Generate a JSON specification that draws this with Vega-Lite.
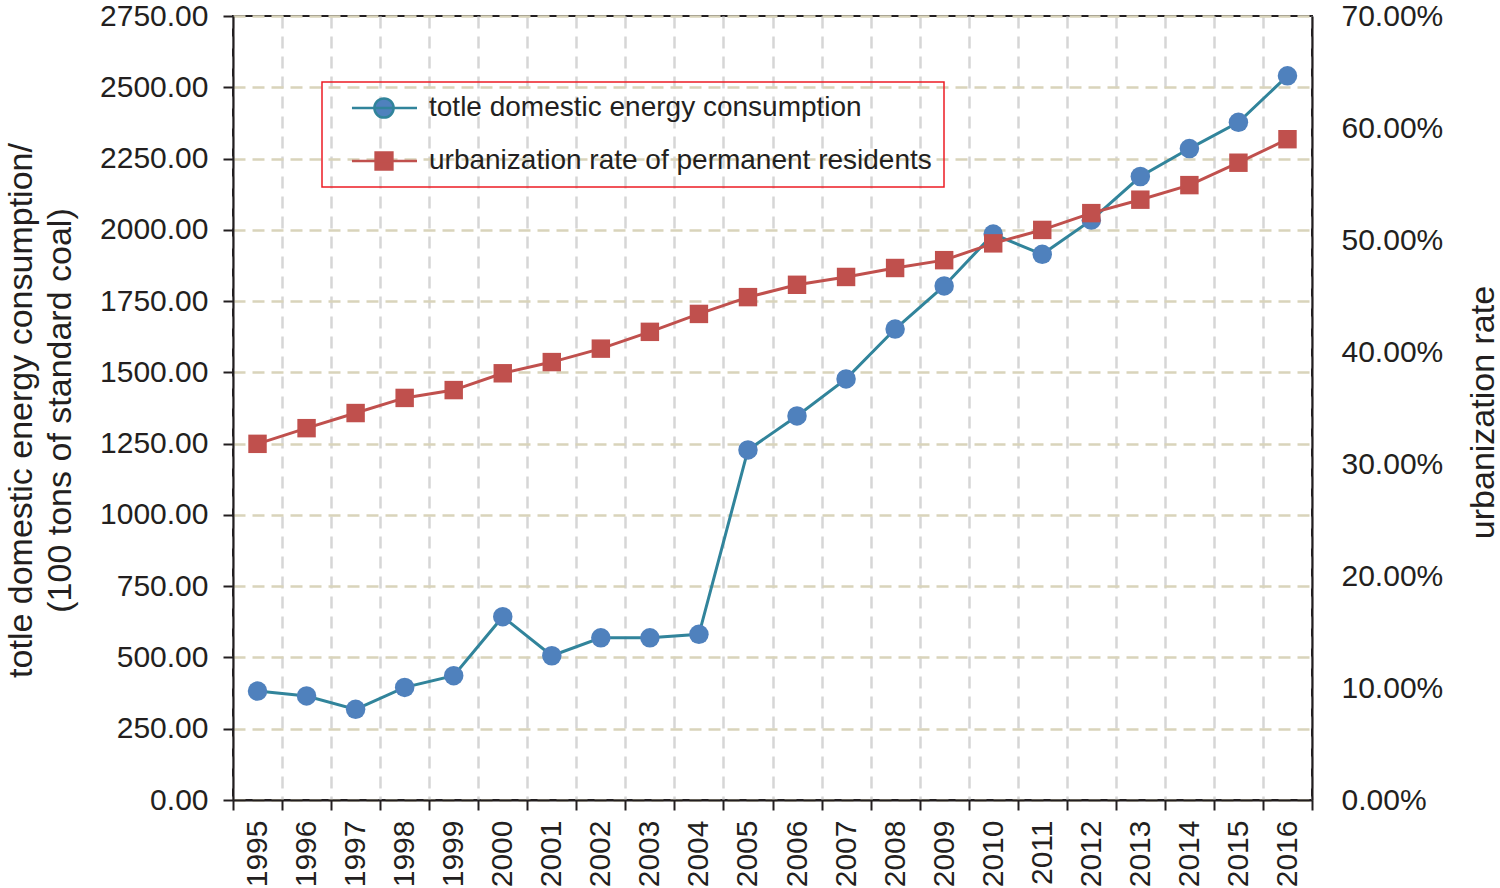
{
  "$schema": "https://vega.github.io/schema/vega-lite/v6.json",
  "width": 1079,
  "height": 784,
  "autosize": {"type": "none"},
  "padding": {"left": 233, "top": 16, "right": 188, "bottom": 88},
  "background": "white",
  "data": {
    "values": [
      {"year": "1995", "series": "totle domestic energy consumption", "value": 382},
      {"year": "1996", "series": "totle domestic energy consumption", "value": 365},
      {"year": "1997", "series": "totle domestic energy consumption", "value": 318},
      {"year": "1998", "series": "totle domestic energy consumption", "value": 395},
      {"year": "1999", "series": "totle domestic energy consumption", "value": 436},
      {"year": "2000", "series": "totle domestic energy consumption", "value": 643},
      {"year": "2001", "series": "totle domestic energy consumption", "value": 506},
      {"year": "2002", "series": "totle domestic energy consumption", "value": 569},
      {"year": "2003", "series": "totle domestic energy consumption", "value": 569},
      {"year": "2004", "series": "totle domestic energy consumption", "value": 581},
      {"year": "2005", "series": "totle domestic energy consumption", "value": 1228},
      {"year": "2006", "series": "totle domestic energy consumption", "value": 1347},
      {"year": "2007", "series": "totle domestic energy consumption", "value": 1477},
      {"year": "2008", "series": "totle domestic energy consumption", "value": 1652},
      {"year": "2009", "series": "totle domestic energy consumption", "value": 1803},
      {"year": "2010", "series": "totle domestic energy consumption", "value": 1985},
      {"year": "2011", "series": "totle domestic energy consumption", "value": 1914},
      {"year": "2012", "series": "totle domestic energy consumption", "value": 2034},
      {"year": "2013", "series": "totle domestic energy consumption", "value": 2187},
      {"year": "2014", "series": "totle domestic energy consumption", "value": 2285},
      {"year": "2015", "series": "totle domestic energy consumption", "value": 2377},
      {"year": "2016", "series": "totle domestic energy consumption", "value": 2540},
      {"year": "1995", "series": "urbanization rate of permanent residents", "value": 0.318},
      {"year": "1996", "series": "urbanization rate of permanent residents", "value": 0.332},
      {"year": "1997", "series": "urbanization rate of permanent residents", "value": 0.3455},
      {"year": "1998", "series": "urbanization rate of permanent residents", "value": 0.359},
      {"year": "1999", "series": "urbanization rate of permanent residents", "value": 0.366},
      {"year": "2000", "series": "urbanization rate of permanent residents", "value": 0.381},
      {"year": "2001", "series": "urbanization rate of permanent residents", "value": 0.391},
      {"year": "2002", "series": "urbanization rate of permanent residents", "value": 0.403},
      {"year": "2003", "series": "urbanization rate of permanent residents", "value": 0.418},
      {"year": "2004", "series": "urbanization rate of permanent residents", "value": 0.434},
      {"year": "2005", "series": "urbanization rate of permanent residents", "value": 0.449},
      {"year": "2006", "series": "urbanization rate of permanent residents", "value": 0.460},
      {"year": "2007", "series": "urbanization rate of permanent residents", "value": 0.467},
      {"year": "2008", "series": "urbanization rate of permanent residents", "value": 0.475},
      {"year": "2009", "series": "urbanization rate of permanent residents", "value": 0.482},
      {"year": "2010", "series": "urbanization rate of permanent residents", "value": 0.497},
      {"year": "2011", "series": "urbanization rate of permanent residents", "value": 0.509},
      {"year": "2012", "series": "urbanization rate of permanent residents", "value": 0.524},
      {"year": "2013", "series": "urbanization rate of permanent residents", "value": 0.536},
      {"year": "2014", "series": "urbanization rate of permanent residents", "value": 0.549},
      {"year": "2015", "series": "urbanization rate of permanent residents", "value": 0.569},
      {"year": "2016", "series": "urbanization rate of permanent residents", "value": 0.590}
    ]
  },
  "encoding": {
    "x": {
      "field": "year",
      "type": "ordinal",
      "scale": {"type": "band", "paddingInner": 0, "paddingOuter": 0},
      "axis": {
        "title": null,
        "labelAngle": 270,
        "tickBand": "extent",
        "grid": true,
        "gridDash": [12, 8],
        "gridColor": "#d6d6d6",
        "gridWidth": 2.5,
        "tickSize": 10,
        "labelPadding": 10
      }
    }
  },
  "layer": [
    {
      "transform": [{"filter": "datum.series === 'totle domestic energy consumption'"}],
      "encoding": {
        "y": {
          "field": "value",
          "type": "quantitative",
          "scale": {"domain": [0, 2750], "nice": false, "zero": true},
          "axis": {
            "orient": "left",
            "values": [0, 250, 500, 750, 1000, 1250, 1500, 1750, 2000, 2250, 2500, 2750],
            "format": ".2f",
            "grid": true,
            "gridDash": [12, 7],
            "gridColor": "#d9d4bb",
            "gridWidth": 2.5,
            "tickSize": 10,
            "labelPadding": 15,
            "title": ["totle domestic energy consumption/", "(100 tons of standard coal)"],
            "titleAngle": 270,
            "titleX": -202,
            "titleY": 394,
            "titleAlign": "center",
            "titleBaseline": "alphabetic",
            "titleLineHeight": 39
          }
        }
      },
      "layer": [
        {"mark": {"type": "line", "color": "#31849b", "strokeWidth": 3}},
        {
          "mark": {"type": "point", "shape": "circle", "filled": true, "size": 380, "opacity": 1, "strokeWidth": 0},
          "encoding": {
            "color": {
              "field": "series",
              "type": "nominal",
              "scale": {
                "domain": ["totle domestic energy consumption", "urbanization rate of permanent residents"],
                "range": ["#4f81bd", "#c0504d"]
              },
              "legend": {
                "orient": "none",
                "legendX": 89,
                "legendY": 66,
                "title": null,
                "strokeColor": "#ed1c24",
                "padding": 12,
                "rowPadding": 24,
                "labelFontSize": 28,
                "labelFont": "Liberation Sans",
                "labelColor": "#231f20",
                "labelOffset": 67,
                "labelLimit": 0,
                "symbolSize": 576,
                "symbolStrokeWidth": 2.5,
                "symbolOpacity": 1,
                "encode": {
                  "legend": {"update": {"strokeWidth": {"value": 1.5}}},
                  "symbols": {
                    "update": {
                      "shape": {"signal": "datum.value === 'totle domestic energy consumption' ? 'M0.33,0L5.75,0M3.8,0A0.8,0.8,0,1,1,2.2,0A0.8,0.8,0,1,1,3.8,0Z' : 'M0.33,0L5.75,0M2.3,-0.7L3.7,-0.7L3.7,0.7L2.3,0.7Z'"},
                      "stroke": {"signal": "datum.value === 'totle domestic energy consumption' ? '#31849b' : '#c0504d'"},
                      "strokeWidth": {"value": 2.5},
                      "opacity": {"value": 1}
                    }
                  }
                }
              }
            }
          }
        }
      ]
    },
    {
      "transform": [{"filter": "datum.series === 'urbanization rate of permanent residents'"}],
      "encoding": {
        "y": {
          "field": "value",
          "type": "quantitative",
          "scale": {"domain": [0, 0.7], "nice": false, "zero": true},
          "axis": {
            "orient": "right",
            "values": [0, 0.1, 0.2, 0.3, 0.4, 0.5, 0.6, 0.7],
            "format": ".2%",
            "grid": false,
            "ticks": false,
            "tickSize": 0,
            "labelPadding": 29,
            "title": "urbanization rate",
            "titleAngle": 270,
            "titleX": 181,
            "titleY": 396,
            "titleAlign": "center",
            "titleBaseline": "alphabetic"
          }
        }
      },
      "layer": [
        {"mark": {"type": "line", "color": "#c0504d", "strokeWidth": 3}},
        {
          "mark": {"type": "point", "shape": "square", "filled": true, "size": 340, "opacity": 1, "strokeWidth": 0},
          "encoding": {
            "color": {"field": "series", "type": "nominal"}
          }
        }
      ]
    }
  ],
  "resolve": {"scale": {"y": "independent"}},
  "config": {
    "font": "Liberation Sans",
    "view": {"stroke": "#231f20", "strokeWidth": 2},
    "axis": {
      "labelFont": "Liberation Sans",
      "labelFontSize": 30,
      "labelColor": "#231f20",
      "titleFont": "Liberation Sans",
      "titleFontSize": 34,
      "titleFontWeight": "normal",
      "titleColor": "#231f20",
      "domainColor": "#231f20",
      "domainWidth": 2,
      "tickColor": "#231f20",
      "tickWidth": 2
    }
  }
}
